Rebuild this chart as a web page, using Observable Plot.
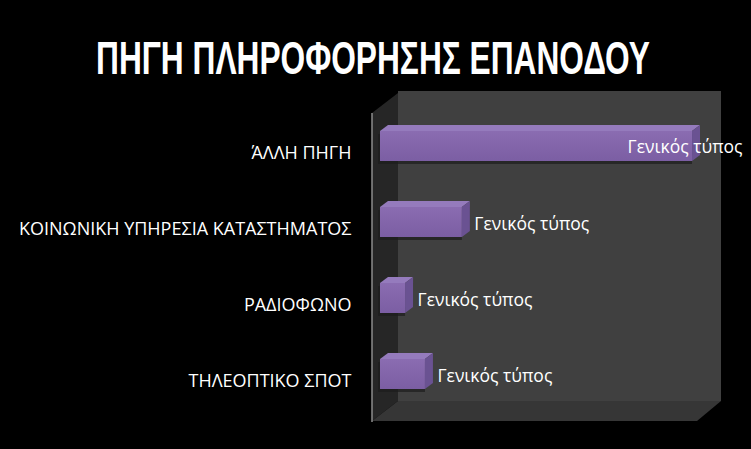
<!DOCTYPE html>
<html>
<head>
<meta charset="utf-8">
<script src="https://cdn.jsdelivr.net/npm/d3@7"></script>
<script src="https://cdn.jsdelivr.net/npm/@observablehq/plot@0.6"></script>
<style>
  html, body { margin: 0; padding: 0; background: #000; }
  #wrap { width: 751px; height: 449px; overflow: hidden; background: #000; }
  #title { position: relative; height: 85px; }
  #title span { position: absolute; left: 96px; top: 35px; font-family: "Liberation Sans Narrow", "Liberation Sans", sans-serif; font-weight: bold; font-size: 46px; line-height: 1; color: #fff; white-space: nowrap; transform-origin: 0 0; }
</style>
</head>
<body>
<div id="wrap">
  <div id="title"><span id="t">ΠΗΓΗ ΠΛΗΡΟΦΟΡΗΣΗΣ ΕΠΑΝΟΔΟΥ</span></div>
  <div id="chart"></div>
</div>
<script>
const categories = ["ΆΛΛΗ ΠΗΓΗ", "ΚΟΙΝΩΝΙΚΗ ΥΠΗΡΕΣΙΑ ΚΑΤΑΣΤΗΜΑΤΟΣ", "ΡΑΔΙΟΦΩΝΟ", "ΤΗΛΕΟΠΤΙΚΟ ΣΠΟΤ"];
const values = [97.2, 25.5, 7.8, 14.0];
const labels = ["Γενικός τύπος", "Γενικός τύπος", "Γενικός τύπος", "Γενικός τύπος"];
const xMax = 100;

const data = categories.map((c, i) => ({cat: c, value: values[i], label: labels[i]}));

// fit title width
const t = document.getElementById("t");
const tw = t.getBoundingClientRect().width;
t.style.transform = `scaleX(${554 / tw})`;

const DX = 8, DY = -6;      // bar depth
const WDX = 26, WDY = -20;  // wall depth

function walls(index, scales) {
  const x = scales.x, y = scales.y;
  const [r0, r1] = y.range();
  const fl = x(0) - 8, fr = x(xMax) - 4;
  const ft = r0 + 6, fb = r1 + 7;
  const g = d3.create("svg:g");
  g.append("rect").attr("x", fl + WDX).attr("y", ft + WDY - 2)
    .attr("width", fr + 24 - (fl + WDX)).attr("height", fb - ft + 2).attr("fill", "#404040");
  g.append("polygon").attr("points", [[fl, ft], [fl + WDX, ft + WDY], [fl + WDX, fb + WDY], [fl, fb]].join(" ")).attr("fill", "#262626");
  g.append("polygon").attr("points", [[fl, fb], [fr, fb], [fr + 24, fb + WDY], [fl + WDX, fb + WDY]].join(" ")).attr("fill", "#363636");
  g.append("line").attr("x1", fl).attr("x2", fl).attr("y1", ft).attr("y2", fb + 1)
    .attr("stroke", "#8c8c8c").attr("stroke-width", 1.5);
  return g.node();
}

const chart = Plot.plot({
  width: 751,
  height: 364,
  marginLeft: 372,
  marginRight: 0,
  marginTop: 0,
  marginBottom: 0,
  style: {background: "#000", color: "#fff", overflow: "visible"},
  x: {domain: [0, xMax], range: [380, 701], axis: null},
  y: {domain: categories, range: [22, 329], paddingInner: 0.6, paddingOuter: 0.3, align: 0.5, label: null},
  marks: [
    walls,
    Plot.barX(data, {x: "value", y: "cat", fill: "url(#barGrad)"}),
    Plot.axisY({tickSize: 0, tickPadding: 21, dy: 7, fontSize: 18, fontFamily: "Open Sans", fill: "#fff", label: null}),
    Plot.text(data.slice(1), {x: "value", y: "cat", text: "label", textAnchor: "start", dx: 12, dy: 2, fill: "#fff", fontSize: 17.5, fontFamily: "Open Sans"}),
    Plot.text(data.slice(0, 1), {x: "value", y: "cat", text: "label", textAnchor: "end", dx: 50, dy: 1, fill: "#fff", fontSize: 17.5, fontFamily: "Open Sans"})
  ]
});

// gradient + 3D faces built from the rendered bar rects
const ns = "http://www.w3.org/2000/svg";
const defs = document.createElementNS(ns, "defs");
defs.innerHTML = '<linearGradient id="barGrad" x1="0" y1="0" x2="0" y2="1"><stop offset="0%" stop-color="#8a6cb1"/><stop offset="100%" stop-color="#7b5ea3"/></linearGradient>';
chart.insertBefore(defs, chart.firstChild);

const barRects = Array.from(chart.querySelectorAll("rect")).filter(r => {
  const f = r.getAttribute("fill") || (r.parentNode.getAttribute && r.parentNode.getAttribute("fill"));
  return f && f.indexOf("barGrad") >= 0;
});
for (const r of barRects) {
  const x0 = +r.getAttribute("x"), y0 = +r.getAttribute("y"), w = +r.getAttribute("width"), h = +r.getAttribute("height");
  const x1 = x0 + w, y1 = y0 + h;
  const parent = r.parentNode;
  const mk = (tag, attrs) => { const e = document.createElementNS(ns, tag); for (const k in attrs) e.setAttribute(k, attrs[k]); return e; };
  parent.insertBefore(mk("rect", {x: x0 - 2, y: y0 + 3, width: w + 2, height: h, fill: "#1c1c1c", opacity: 0.7}), r);
  parent.insertBefore(mk("polygon", {points: [[x0, y0], [x1, y0], [x1 + DX, y0 + DY], [x0 + DX, y0 + DY]].join(" "), fill: "#957bbd"}), r);
  parent.insertBefore(mk("polygon", {points: [[x1, y0], [x1 + DX, y0 + DY], [x1 + DX, y1 + DY], [x1, y1]].join(" "), fill: "#6a5292"}), r);
}

document.getElementById("chart").appendChild(chart);
</script>
</body>
</html>
